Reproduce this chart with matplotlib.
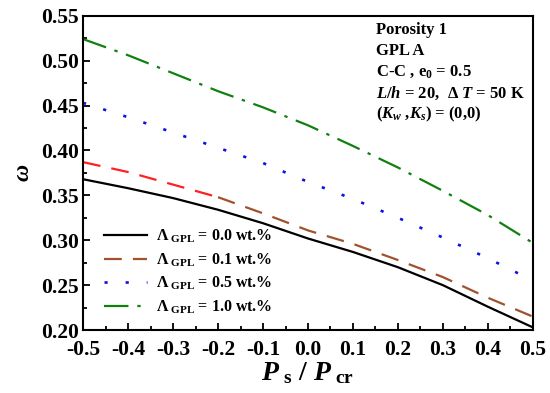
import numpy as np
import matplotlib
matplotlib.use('Agg')
import matplotlib.pyplot as plt
from matplotlib.ticker import MultipleLocator

plt.rcParams['font.family'] = 'Liberation Serif'
plt.rcParams['font.weight'] = 'bold'
plt.rcParams['mathtext.fontset'] = 'custom'
plt.rcParams['mathtext.rm'] = 'Liberation Serif:bold'
plt.rcParams['mathtext.it'] = 'Liberation Serif:italic:bold'
plt.rcParams['mathtext.bf'] = 'Liberation Serif:bold'

# Data
ps_pcr = [-0.5, -0.4, -0.3, -0.2, -0.1, 0.0, 0.1, 0.2, 0.3, 0.4, 0.5]
w_00 = [0.368, 0.358, 0.347, 0.334, 0.319, 0.302, 0.287, 0.270, 0.250, 0.226, 0.203]
w_01 = [0.387, 0.376, 0.362, 0.348, 0.330, 0.311, 0.296, 0.278, 0.259, 0.236, 0.215]
w_05 = [0.453, 0.437, 0.420, 0.403, 0.386, 0.365, 0.346, 0.325, 0.303, 0.280, 0.255]
w_10 = [0.524, 0.506, 0.486, 0.466, 0.448, 0.428, 0.405, 0.381, 0.355, 0.328, 0.297]

labels = [r'$\Lambda_{\ \mathrm{GPL}}$ = 0.0 wt.%',
          r'$\Lambda_{\ \mathrm{GPL}}$ = 0.1 wt.%',
          r'$\Lambda_{\ \mathrm{GPL}}$ = 0.5 wt.%',
          r'$\Lambda_{\ \mathrm{GPL}}$ = 1.0 wt.%']

fig, ax = plt.subplots(figsize=(5.5, 3.93), dpi=100)
fig.subplots_adjust(left=0.151, right=0.969, top=0.96, bottom=0.16)

x = np.array(ps_pcr)
ax.plot(x, w_00, color='black', lw=1.6, label=labels[0])
# the dashed curve goes from red (left) to brown (right) in the reference
ax.plot(x[:4], w_01[:4], color='#ff2020', lw=1.6, dashes=(8, 5))
ax.plot(x[3:], w_01[3:], color='#a0522d', lw=1.6, dashes=(8, 5), label=labels[1])
ax.plot(x, w_05, color='#1010e0', lw=1.9, linestyle=(0, (1.2, 6.8)), label=labels[2])
ax.plot(x, w_10, color='#108010', lw=1.6, linestyle=(0, (11, 4, 1.5, 4)), label=labels[3])

ax.set_xlim(-0.5, 0.5)
ax.set_ylim(0.20, 0.55)
ax.xaxis.set_major_locator(MultipleLocator(0.1))
ax.xaxis.set_minor_locator(MultipleLocator(0.05))
ax.yaxis.set_major_locator(MultipleLocator(0.05))
ax.yaxis.set_minor_locator(MultipleLocator(0.025))
ax.tick_params(which='both', direction='in', labelsize=15.5, width=1.3)
ax.tick_params(which='major', length=5)
ax.tick_params(which='minor', length=3)
ax.tick_params(axis='x', pad=7)
ax.tick_params(axis='y', pad=3)
ax.set_xticklabels([f'{v:.1f}' for v in ax.get_xticks()])
ax.set_yticklabels([f'{v:.2f}' for v in ax.get_yticks()])
for s in ax.spines.values():
    s.set_linewidth(1.5)

ax.set_xlabel(r'$P_{\ \mathrm{s}}\ /\ P_{\ \mathrm{cr}}$', fontsize=20, labelpad=0)
ax.set_ylabel(r'$\omega$', fontsize=17, labelpad=5)

info = ['Porosity 1', 'GPL A', r'C-C , e$_0$ = 0.5',
        r'$L/h$ = 20,  $\Delta$ $T$ = 50 K', r'($K_w$ ,$K_s$) = (0,0)']
for i, t in enumerate(info):
    ax.text(0.652, 0.98 - i * 0.066, t, transform=ax.transAxes,
            fontsize=12, fontweight='bold', va='top', ha='left')

ax.legend(loc='lower left', bbox_to_anchor=(0.025, 0.015), frameon=False,
          fontsize=11.5, handlelength=2.7, handletextpad=0.55,
          labelspacing=0.38, borderaxespad=0.2)

plt.savefig('out.png', dpi=100)
